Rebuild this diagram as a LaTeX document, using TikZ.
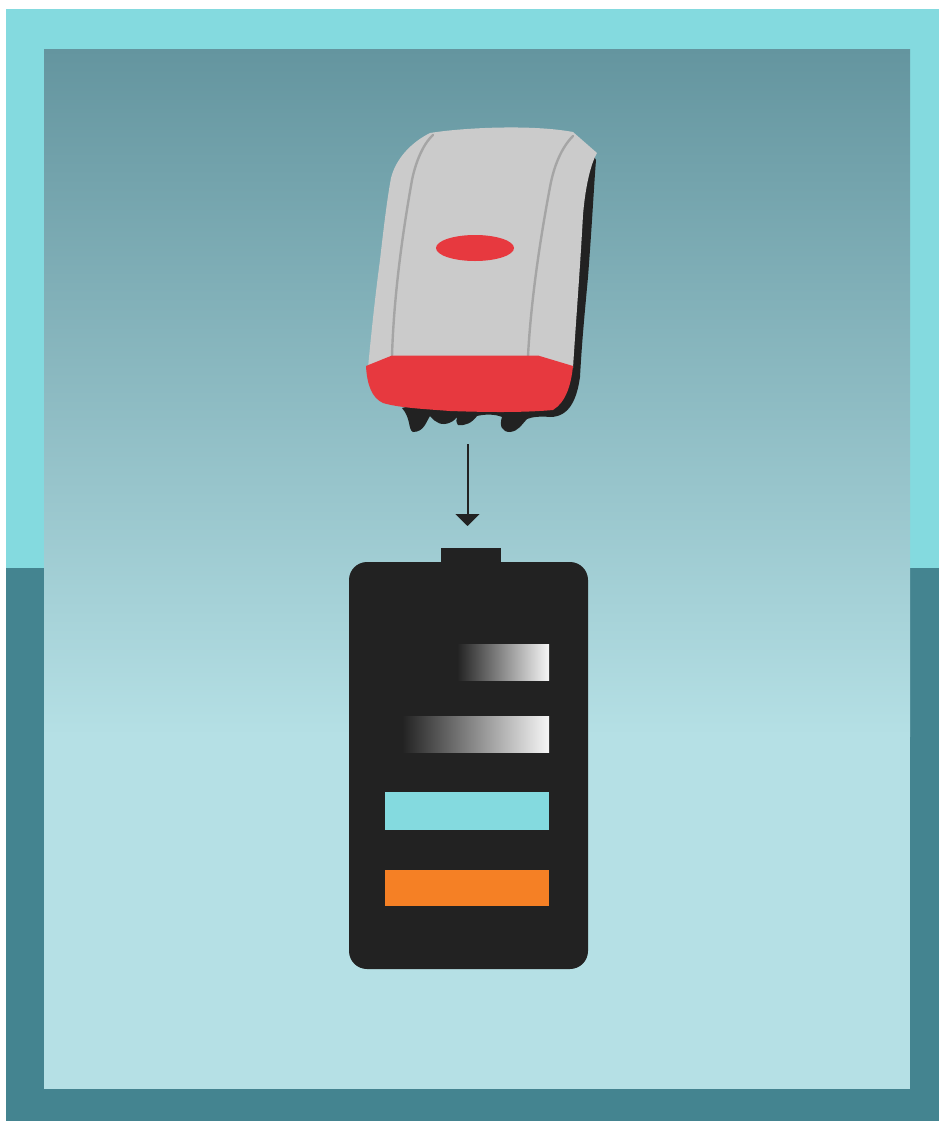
\documentclass[tikz,border=0pt]{standalone}
\usetikzlibrary{arrows.meta}
\definecolor{frametop}{HTML}{84DADF}
\definecolor{framebot}{HTML}{448490}
\definecolor{skytop}{HTML}{64959F}
\definecolor{skybot}{HTML}{B5E0E5}
\definecolor{ink}{HTML}{222222}
\definecolor{bodygrey}{HTML}{CBCBCB}
\definecolor{ridge}{HTML}{A5A5A5}
\definecolor{redpart}{HTML}{E7393F}
\definecolor{orangebar}{HTML}{F58025}
\definecolor{barlight}{HTML}{F6F6F6}
\tikzset{
  fadebar/.style={left color=ink,right color=barlight,draw=none,shading angle=90},
  ridgeline/.style={draw=ridge,line width=1.8pt,line cap=round},
  flowarrow/.style={draw=ink,line width=1.5pt,-{Triangle[width=18pt,length=9pt]}}
}
\begin{document}
\begin{tikzpicture}[x=0.75pt,y=-0.75pt]
\useasboundingbox (0,0) rectangle (939,1121);
\fill[white] (0,0) rectangle (939,1121);
% frame
\fill[frametop] (6,9) rectangle (939,568);
\fill[framebot] (6,568) rectangle (939,1121);
% inner panel
\shade[top color=skytop,bottom color=skybot,middle color=skytop!50!skybot] (44,49) rectangle (910,736);
\fill[skybot] (44,735.5) rectangle (910,1089);
% inverter shadow and feet
\fill[ink] (590,150) -- (596,160)
  .. controls (594,185) and (592,225) .. (588,277)
  .. controls (585,310) and (582,340) .. (580,377)
  .. controls (577,398) and (570,417) .. (550,417)
  .. controls (540,416) and (532,417) .. (527,419)
  .. controls (522,424) and (519,431) .. (510,432)
  .. controls (502,432) and (499,426) .. (502,417)
  .. controls (495,414) and (485,414) .. (477,416)
  .. controls (472,423) and (465,426) .. (458,425)
  .. controls (456,422) and (456,420) .. (457,417)
  .. controls (452,424) and (442,426) .. (437,422)
  .. controls (433,420) and (432,418) .. (430,416)
  .. controls (426,422) and (424,432) .. (413,432)
  .. controls (408,430) and (411,418) .. (402,408)
  -- (450,395) -- (560,395) -- cycle;
% inverter body
\fill[bodygrey] (430,133)
  .. controls (460,128) and (530,124) .. (573,132)
  -- (597,153)
  .. controls (590,165) and (585,190) .. (583,215)
  .. controls (580,270) and (576,320) .. (573,368)
  -- (368,368)
  .. controls (372,325) and (376,290) .. (380,260)
  .. controls (384,225) and (387,200) .. (391,178)
  .. controls (396,158) and (412,142) .. (430,133) -- cycle;
\draw[ridgeline] (433,135) .. controls (422,145) and (415,165) .. (412,180)
  .. controls (404,225) and (394,290) .. (392,356);
\draw[ridgeline] (573,136) .. controls (562,147) and (554,165) .. (550,187)
  .. controls (540,240) and (531,300) .. (528,356);
\fill[redpart] (475,248) ellipse [x radius=39,y radius=13];
% red base
\fill[redpart] (366,366) -- (392,355.5) -- (538,355.5) -- (573,366)
  .. controls (571,385) and (566,402) .. (553,410)
  .. controls (520,413) and (480,412) .. (450,411)
  .. controls (425,409) and (400,408) .. (383,403)
  .. controls (372,398) and (367,385) .. (366,366) -- cycle;
% arrow
\coordinate (arrowfrom) at (467.5,444);
\coordinate (arrowto) at (467.5,526);
\draw[flowarrow] (arrowfrom) -- (arrowto);
% battery
\fill[ink,rounded corners=13.5pt] (349,562) rectangle (588,969);
\fill[ink] (441,548) rectangle (501,570);
\shade[fadebar] (457,644) rectangle (549,680);
\shade[fadebar] (402,716) rectangle (549,752);
\fill[frametop] (385,792) rectangle (549,830);
\fill[orangebar] (385,870) rectangle (549,906);
\end{tikzpicture}
\end{document}
